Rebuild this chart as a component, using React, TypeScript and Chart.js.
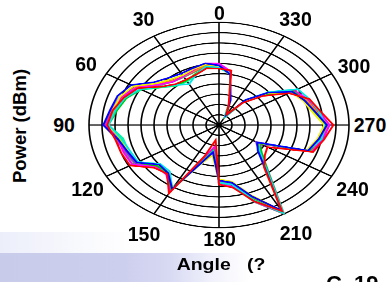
import React, { useEffect, useRef } from "react";
import { Chart, registerables } from "chart.js";

Chart.register(...registerables);

// Angles (degrees, counter-clockwise from top), 10° steps
const ANGLES = [0, 10, 20, 30, 40, 50, 60, 70, 80, 90, 100, 110, 120, 130, 140, 150, 160, 170,
  180, 190, 200, 210, 220, 230, 240, 250, 260, 270, 280, 290, 300, 310, 320, 330, 340, 350];

// Axis tick labels placed around the plot
const ANGLE_TICKS = ["0", "30", "60", "90", "120", "150", "180", "210", "240", "270", "300", "330"];

// Power readings on ring units (0 = centre, 10 = outer ring), one value per angle above
const S_RED = [5.5, 5.6, 5.2, 5.1, 5.2, 5.8, 7.2, 7.8, 8.3, 8.6, 8.1, 8.0, 7.9, 6.5, 6.2, 7.7, 3.2, 1.5, 5.8, 6.2, 7.9, 9.7, 5.4, 4.6, 4.3, 7.7, 8.2, 8.8, 7.9, 7.4, 6.2, 4.4, 2.8, 1.2, 2.2, 5.4];
const S_BLUE = [5.8, 6.1, 5.9, 5.8, 6.0, 6.5, 7.8, 8.3, 8.5, 8.9, 7.9, 7.5, 7.3, 6.0, 6.1, 7.2, 3.9, 2.7, 5.4, 5.7, 7.4, 9.6, 5.5, 3.9, 3.4, 7.3, 7.8, 8.3, 7.5, 7.0, 6.5, 4.9, 3.2, 1.1, 2.6, 5.0];
const S_GREEN = [5.6, 5.7, 5.3, 5.0, 5.1, 5.8, 7.0, 7.6, 8.0, 8.5, 7.6, 7.4, 7.3, 6.2, 6.1, 7.3, 3.8, 2.5, 5.6, 5.9, 7.7, 9.9, 5.8, 4.3, 3.6, 7.4, 7.9, 8.2, 7.4, 7.0, 6.6, 4.6, 2.9, 0.9, 2.3, 5.1];
const S_YELLOW = [5.7, 6.0, 5.8, 5.6, 5.8, 6.3, 7.6, 8.1, 8.3, 8.6, 7.6, 7.4, 7.3, 6.0, 6.0, 7.1, 4.0, 3.0, 5.3, 5.6, 7.3, 9.6, 5.4, 4.0, 3.5, 7.2, 7.7, 8.1, 7.3, 6.9, 6.4, 4.8, 3.1, 1.2, 2.6, 5.0];
const S_MAGENTA = [6.0, 6.1, 5.7, 5.5, 5.5, 6.1, 7.3, 8.0, 8.3, 8.7, 7.9, 7.8, 7.7, 6.3, 6.3, 7.5, 3.5, 2.2, 5.8, 6.1, 7.9, 9.9, 5.7, 4.2, 3.7, 7.6, 8.1, 8.5, 7.8, 7.3, 6.7, 4.9, 3.0, 0.9, 2.4, 5.3];
const S_CYAN = [5.6, 5.8, 5.2, 4.6, 5.1, 5.8, 7.0, 7.7, 8.1, 8.5, 7.6, 7.3, 7.2, 5.9, 5.9, 7.2, 3.9, 2.6, 5.6, 5.9, 7.8, 9.9, 5.7, 4.1, 3.4, 7.3, 8.0, 8.2, 7.8, 7.4, 7.0, 5.0, 3.2, 1.0, 2.5, 5.1];
const S_ORANGE = [5.7, 5.9, 5.6, 5.5, 5.6, 6.2, 7.4, 7.9, 8.2, 8.7, 7.9, 7.8, 7.7, 6.4, 6.2, 7.4, 3.7, 2.3, 5.6, 5.9, 7.6, 9.8, 5.6, 4.1, 3.5, 7.5, 7.9, 8.4, 7.6, 7.2, 6.6, 4.7, 3.0, 1.0, 2.4, 5.1];
const S_VIOLET = [5.8, 5.9, 5.6, 5.5, 5.7, 6.2, 7.5, 8.0, 8.3, 8.7, 7.9, 7.6, 7.4, 6.0, 6.0, 7.2, 3.8, 2.8, 5.5, 5.8, 7.6, 9.8, 5.8, 4.0, 3.3, 7.6, 7.9, 8.5, 7.7, 7.2, 6.5, 4.8, 3.1, 1.1, 2.4, 5.2];
const S_GRAY = [5.7, 5.8, 5.5, 5.4, 5.5, 6.0, 7.3, 7.9, 8.3, 8.9, 8.0, 7.7, 7.5, 6.1, 6.1, 7.4, 3.8, 2.4, 5.7, 6.1, 8.0, 10.0, 5.9, 4.3, 3.5, 7.5, 8.0, 8.4, 7.6, 7.1, 6.5, 4.6, 2.9, 1.0, 2.3, 5.1];
const S_SPRING = [5.6, 5.7, 5.2, 4.9, 5.0, 5.7, 6.9, 7.6, 8.0, 8.5, 7.5, 7.4, 7.3, 6.2, 6.0, 7.2, 3.6, 2.4, 5.6, 5.9, 7.7, 9.9, 5.6, 4.1, 3.5, 7.4, 7.9, 8.3, 7.6, 7.2, 6.7, 4.8, 3.0, 0.9, 2.3, 5.0];
const S_LIME = [5.7, 5.9, 5.7, 5.4, 5.5, 6.1, 7.3, 7.9, 8.2, 8.6, 7.7, 7.6, 7.5, 6.1, 6.1, 7.3, 4.0, 2.9, 5.4, 5.7, 7.5, 9.7, 5.6, 4.1, 3.5, 7.3, 7.8, 8.3, 7.5, 7.1, 6.6, 4.7, 3.0, 1.1, 2.5, 5.1];
const S_PURPLE = [5.9, 6.0, 5.7, 5.6, 5.7, 6.3, 7.5, 8.1, 8.4, 8.8, 7.8, 7.6, 7.5, 6.1, 6.0, 7.3, 3.7, 2.5, 5.6, 5.9, 7.7, 9.9, 5.7, 4.2, 3.4, 7.6, 8.1, 8.5, 7.7, 7.2, 6.6, 4.8, 3.0, 1.0, 2.4, 5.2];

const SERIES = [
  { values: S_RED, color: "#ff0000" },
  { values: S_BLUE, color: "#0000ff" },
  { values: S_CYAN, color: "#00e8e8" },
  { values: S_YELLOW, color: "#f0f000" },
  { values: S_GREEN, color: "#00c800" },
  { values: S_MAGENTA, color: "#ff00ff" },
  { values: S_ORANGE, color: "#ff8c00" },
  { values: S_VIOLET, color: "#8a2be2" },
  { values: S_SPRING, color: "#00ff80" },
  { values: S_GRAY, color: "#808080" },
  { values: S_LIME, color: "#80ff00" },
  { values: S_PURPLE, color: "#a050ff" },
];

// Radar goes clockwise; the reference angles run counter-clockwise -> reorder
const cw = <T,>(arr: T[]): T[] => arr.map((_, i) => arr[(arr.length - i) % arr.length]);

const TICK_POS: Record<string, [number, number]> = {
  "0": [219.5, 13.5], "330": [295.5, 20], "300": [354, 67], "270": [370, 126],
  "240": [352.5, 190], "210": [296, 233.5], "180": [219.5, 240], "150": [144, 235],
  "120": [87.5, 190], "90": [64, 126], "60": [86, 65], "30": [143.5, 20],
};

const font = "Arial, 'Liberation Sans', sans-serif";

export default function App() {
  const ref = useRef<HTMLCanvasElement | null>(null);

  useEffect(() => {
    if (!ref.current) return;
    const chart = new Chart(ref.current, {
      type: "radar",
      data: {
        labels: cw(ANGLES).map(String),
        datasets: SERIES.map((s) => ({
          data: cw(s.values),
          borderColor: s.color,
          backgroundColor: s.color,
          borderWidth: 2,
          fill: false,
          pointRadius: 0,
          tension: 0,
        })),
      },
      options: {
        responsive: false,
        animation: false,
        devicePixelRatio: 2,
        layout: { padding: 3 },
        plugins: { legend: { display: false }, tooltip: { enabled: false } },
        scales: {
          r: {
            min: 0,
            max: 10,
            ticks: { display: false, stepSize: 1 },
            grid: { color: "#000", lineWidth: 1.6, circular: true },
            angleLines: {
              display: true,
              lineWidth: 1.6,
              color: (ctx: any) => (ctx.index % 3 === 0 ? "#000" : "rgba(0,0,0,0)"),
            },
            pointLabels: { display: false },
          },
        },
      },
    } as any);
    return () => chart.destroy();
  }, []);

  return (
    <div style={{ position: "fixed", left: 0, top: 0, width: 391, height: 282, overflow: "hidden", background: "#fff" }}>
      {/* pale band bottom-left */}
      <div style={{ position: "absolute", left: 0, top: 232, width: 140, height: 22,
        background: "linear-gradient(to right, rgba(236,238,250,1), rgba(245,246,252,0.6) 60%, rgba(255,255,255,0))" }} />
      <div style={{ position: "absolute", left: 0, top: 253, width: 250, height: 29,
        background: "linear-gradient(to right, #c9cbeb 0%, #cdcfee 50%, #d8daf3 68%, rgba(235,236,250,0.7) 85%, rgba(255,255,255,0) 100%)" }} />
      <canvas
        ref={ref}
        width={266}
        height={266}
        style={{ position: "absolute", left: 86, top: 20, width: "266px", height: "210px" }}
      />
      {ANGLE_TICKS.map((t) => (
        <div key={t} style={{ position: "absolute", left: TICK_POS[t][0], top: TICK_POS[t][1],
          transform: "translate(-50%,-50%)", font: `bold 19.5px ${font}`, lineHeight: "1",
          color: "#000", whiteSpace: "pre" }}>{t}</div>
      ))}
      <div style={{ position: "absolute", left: 221, top: 263.5, transform: "translate(-50%,-50%) scaleX(1.18)",
        font: `bold 16.5px ${font}`, lineHeight: "1", whiteSpace: "pre", color: "#000" }}>{"Angle   (?"}</div>
      <div style={{ position: "absolute", left: 19.5, top: 125.5, transform: "translate(-50%,-50%) rotate(-90deg)",
        font: `bold 18.5px ${font}`, lineHeight: "1", whiteSpace: "pre", color: "#000" }}>{"Power (dBm)"}</div>
      <div style={{ position: "absolute", left: 326, top: 273, font: `bold 22px ${font}`, lineHeight: "1",
        whiteSpace: "pre", color: "#000" }}>{"C  19"}</div>
    </div>
  );
}
